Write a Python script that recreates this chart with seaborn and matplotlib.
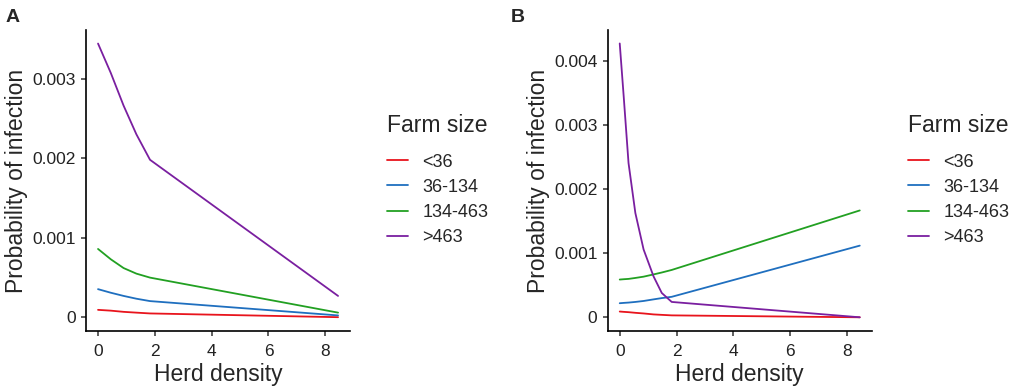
import numpy as np
import pandas as pd
import matplotlib
matplotlib.use("Agg")
import matplotlib.pyplot as plt
import seaborn as sns

# --- Data (probabilities in units of 1e-3) ---
groups = ["<36", "36-134", "134-463", ">463"]
colors = ["#e8141c", "#1f6fbf", "#22a022", "#7a1fa0"]

x_a = [0, 0.45, 0.9, 1.35, 1.83, 8.45]
red_a = [0.095, 0.085, 0.07, 0.06, 0.05, 0.003]
blue_a = [0.355, 0.31, 0.27, 0.235, 0.205, 0.025]
green_a = [0.86, 0.73, 0.62, 0.55, 0.50, 0.06]
purple_a = [3.44, 3.07, 2.66, 2.30, 1.98, 0.27]

x_b = [0, 0.14, 0.31, 0.55, 0.84, 1.19, 1.48, 1.83, 8.45]
red_b = [0.09, 0.085, 0.08, 0.07, 0.06, 0.045, 0.038, 0.03, 0.0]
blue_b = [0.22, 0.225, 0.23, 0.24, 0.255, 0.28, 0.30, 0.32, 1.12]
green_b = [0.59, 0.595, 0.60, 0.615, 0.635, 0.67, 0.70, 0.74, 1.67]
purple_b = [4.28, 3.45, 2.41, 1.63, 1.06, 0.64, 0.38, 0.24, 0.0]

yticks_a = [0, 0.001, 0.002, 0.003]
yticks_b = [0, 0.001, 0.002, 0.003, 0.004]
ytick_labels_a = ["0", "0.001", "0.002", "0.003"]
ytick_labels_b = ["0", "0.001", "0.002", "0.003", "0.004"]
xticks = [0, 2, 4, 6, 8]


def to_long(x, series):
    rows = []
    for g, vals in zip(groups, series):
        for xv, yv in zip(x, vals):
            rows.append({"Herd density": xv, "prob": yv * 1e-3, "Farm size": g})
    return pd.DataFrame(rows)


df_a = to_long(x_a, [red_a, blue_a, green_a, purple_a])
df_b = to_long(x_b, [red_b, blue_b, green_b, purple_b])

sns.set_style("ticks")
plt.rcParams["font.family"] = ["Liberation Sans", "DejaVu Sans"]

fig = plt.figure(figsize=(10.13, 3.9), dpi=100)
ax_a = fig.add_axes([0.085, 0.151, 0.2605, 0.772])
ax_b = fig.add_axes([0.600, 0.151, 0.2605, 0.772])

palette = dict(zip(groups, colors))

panels = [
    (ax_a, df_a, yticks_a, ytick_labels_a, (-0.172e-3, 3.61e-3), "A", 387),
    (ax_b, df_b, yticks_b, ytick_labels_b, (-0.216e-3, 4.49e-3), "B", 908),
]

for ax, df, yt, ytl, ylim, tag, leg_x in panels:
    sns.lineplot(data=df, x="Herd density", y="prob", hue="Farm size",
                 hue_order=groups, palette=palette, linewidth=1.3,
                 ax=ax, sort=True, estimator=None)
    ax.set_xlim(-0.42, 8.87)
    ax.set_ylim(*ylim)
    ax.set_xticks(xticks)
    ax.set_yticks(yt)
    ax.set_yticklabels(ytl)
    ax.set_xlabel("Herd density", fontsize=16.5, labelpad=3)
    ax.set_ylabel("Probability of infection", fontsize=16.5, labelpad=3)
    ax.tick_params(labelsize=12.5, length=3.5, width=1.1, color="#333333",
                   labelcolor="#222222", pad=4)
    ax.tick_params(axis="x", pad=5.5)
    for s in ["top", "right"]:
        ax.spines[s].set_visible(False)
    for s in ["left", "bottom"]:
        ax.spines[s].set_linewidth(1.2)
        ax.spines[s].set_color("black")
    ax.get_legend().remove()
    handles = [plt.Line2D([], [], color=c, lw=1.3) for c in colors]
    leg = fig.legend(handles, groups, title="Farm size", loc="upper left",
                     bbox_to_anchor=(leg_x / 1013, 1 - 114 / 390),
                     frameon=False, fontsize=13, title_fontsize=16.5,
                     handlelength=1.15, handletextpad=0.8, labelspacing=0.45,
                     borderpad=0, borderaxespad=0)
    leg._legend_box.align = "left"
    leg._legend_box.sep = 12
    fig.text((6 if tag == "A" else 511) / 1013, 1 - 9 / 390, tag,
             fontsize=14, fontweight="bold", va="top", ha="left")

fig.savefig("out.png", dpi=100)
